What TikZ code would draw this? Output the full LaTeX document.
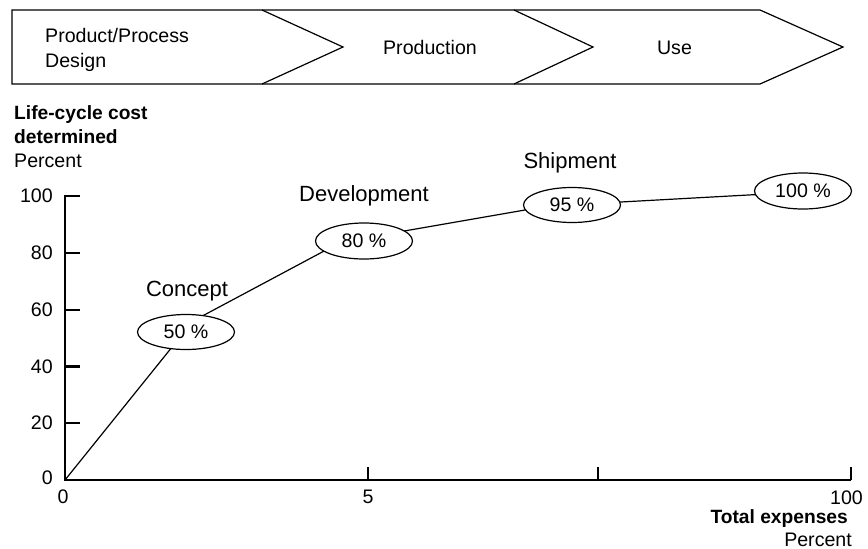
\documentclass[tikz,border=0pt]{standalone}
\usepackage{fontspec}
\setmainfont{Liberation Sans}
\usetikzlibrary{shapes.geometric}
\begin{document}
\begin{tikzpicture}[x=1pt,y=-1pt,
  txt/.style={inner sep=0pt,font=\fontsize{19.6}{23}\selectfont},
  stage/.style={inner sep=0pt,font=\fontsize{22}{25}\selectfont},
  bold/.style={txt,font=\fontsize{19.2}{23}\selectfont\bfseries},
  pct/.style={ellipse,draw,fill=white,line width=1.2pt,inner sep=0pt,
              minimum width=97pt,minimum height=35pt,
              font=\fontsize{19.6}{23}\selectfont},
  axis/.style={line width=2.2pt},
  thin/.style={line width=1.2pt,line join=miter}]
\useasboundingbox (0,0) rectangle (868,549);

% phase band with chevrons
\draw[thin] (12,10) -- (760,10) -- (843,47) -- (760,84) -- (12,84) -- cycle;
\draw[thin] (262,10) -- (343,47) -- (262,84);
\draw[thin] (514,10) -- (593,47) -- (514,84);
\node[txt,anchor=base west] (pp) at (45,42) {Product/Process};
\node[txt,anchor=base west] (ds) at (45,67) {Design};
\node[txt,anchor=base] (prod) at (430,54) {Production};
\node[txt,anchor=base] (use) at (674.5,54) {Use};

% y axis title
\node[bold,anchor=base west] (yt1) at (14,119) {Life-cycle cost};
\node[bold,anchor=base west] (yt2) at (14,143) {determined};
\node[txt,anchor=base west] (yt3) at (14,167) {Percent};

% axes
\coordinate (o) at (65,480);
\coordinate (ytop) at (65,196);
\coordinate (xend) at (851,480);
\draw[axis] (80,196) -- (ytop) -- (o) -- (xend);
\foreach \v/\y in {80/252.8,60/309.6,40/366.4,20/423.2}
  \draw[axis] (65,\y) -- (80,\y);
\foreach \x in {368,598,851}
  \draw[axis] (\x,480) -- (\x,467);

% tick labels
\foreach \v/\y in {100/196,80/252.8,60/309.6,40/366.4,20/423.2,0/478}
  \node[txt,anchor=east] (yl\v) at (53,\y) {\v};
\node[txt] (x0) at (63,497) {0};
\node[txt] (x5) at (368,497) {5};
\node[txt,anchor=base east] (x100) at (863,504) {100};
\node[bold,anchor=base east] (xt1) at (848,523) {Total expenses};
\node[txt,anchor=base east] (xt2) at (852,546) {Percent};

% cost curve
\coordinate (c1) at (193,321);
\coordinate (c2) at (341,242);
\coordinate (c3) at (548,206);
\coordinate (c4) at (803,192);
\draw[thin,line join=round] (o) -- (c1) -- (c2) -- (c3) -- (c4);

% milestones
\node[pct] (m50) at (186,332) {50 \%};
\node[pct,minimum height=36pt] (m80) at (364,241) {80 \%};
\node[pct] (m95) at (572,205) {95 \%};
\node[pct,minimum height=36pt] (m100) at (803,191) {100 \%};
\node[stage] (lc) at (187,291) {Concept};
\node[stage] (ld) at (364,196) {Development};
\node[stage] (ls) at (570,163) {Shipment};
\end{tikzpicture}
\end{document}
